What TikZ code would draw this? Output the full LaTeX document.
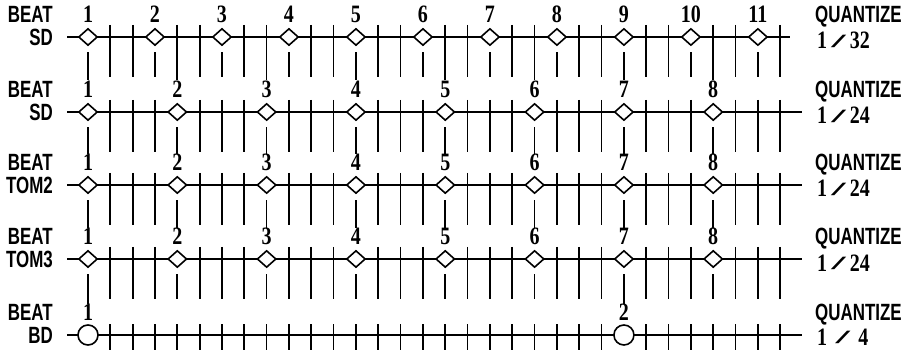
\documentclass[tikz,border=0pt]{standalone}
\usepackage{fontspec}
\setmainfont{Liberation Serif}
\newfontfamily\labfont[FakeStretch=0.72]{Liberation Sans}
\newfontfamily\numfont[FakeStretch=0.8]{Liberation Serif}
\usetikzlibrary{shapes.geometric}
\tikzset{
  rowline/.style={line width=1.4pt},
  tick/.style={line width=1.7pt},
  dia/.style={draw, diamond, minimum width=19pt, minimum height=17pt, inner sep=0pt, fill=white, line width=1.6pt},
  bdcirc/.style={draw, circle, minimum size=20pt, inner sep=0pt, fill=white, line width=1.6pt},
  lab/.style={anchor=east, inner sep=0pt, font=\labfont\bfseries\fontsize{23.5}{23.5}\selectfont},
  qlab/.style={anchor=west, inner sep=0pt, font=\labfont\bfseries\fontsize{23.5}{23.5}\selectfont},
  num/.style={inner sep=0pt, font=\numfont\bfseries\fontsize{25}{25}\selectfont},
  qval/.style={anchor=base west, inner sep=0pt, font=\numfont\bfseries\fontsize{25}{25}\selectfont},
}
\newcommand\qsl{\raisebox{1.5pt}{\scalebox{2.6}[0.75]{/}}}
\newcommand\qv[1]{1\,\qsl\,#1}
% #1 name, #2 y, #3 beat step, #4 last beat grid, #5 line end x, #6 align modulo, #7 aligned end y, #8 instrument, #9 quantize value
\newcommand\drawrow[9]{%
  \node[lab] (#1beat) at (53,#2-23) {BEAT};
  \node[lab] (#1inst) at (53,#2) {#8};
  \node[qlab] (#1q) at (815,#2-20) {QUANTIZE};
  \node[qval] (#1qv) at (817,#2+12) {#9};
  \coordinate (#1s) at (67,#2);
  \coordinate (#1e) at (#5,#2);
  \draw[rowline] (#1s) -- (#1e);
  \foreach \g in {1,...,31}{%
    \pgfmathtruncatemacro\isb{(mod(\g,#3)==0)*(\g<=#4)}%
    \pgfmathtruncatemacro\isa{mod(\g,#6)==0}%
    \pgfmathsetmacro\gx{88+\g*22.33}%
    \ifnum\isb=0
      \ifnum\isa=1 \pgfmathsetmacro\ey{#7}\else \pgfmathsetmacro\ey{#2+40}\fi
      \coordinate (#1tt\g) at (\gx,#2-12);
      \coordinate (#1tb\g) at (\gx,\ey);
      \draw[tick] (#1tt\g) -- (#1tb\g);
    \fi
  }
  \foreach \g in {0,#3,...,#4}{%
    \pgfmathtruncatemacro\isa{mod(\g,#6)==0}%
    \pgfmathtruncatemacro\n{\g/#3+1}%
    \pgfmathsetmacro\gx{88+\g*22.33}%
    \ifnum\isa=1 \pgfmathsetmacro\ey{#7}\else \pgfmathsetmacro\ey{#2+40}\fi
    \node[dia] (#1d\g) at (\gx,#2) {};
    \node[num] (#1n\g) at (\gx,#2-23) {\n};
    \coordinate (#1sb\g) at (\gx,\ey);
    \draw[tick] ([yshift=-6pt]#1d\g.south) -- (#1sb\g);
  }
}
\begin{document}
\begin{tikzpicture}[x=1pt,y=-1pt]
\useasboundingbox (0,0) rectangle (906,350);
\drawrow{ra}{37}{3}{30}{790}{4}{80}{SD}{\qv{32}}
\drawrow{rb}{112}{4}{28}{802}{4}{154}{SD}{\qv{24}}
\drawrow{rc}{185}{4}{28}{802}{4}{228}{TOM2}{\qv{24}}
\drawrow{rd}{259}{4}{28}{802}{24}{304}{TOM3}{\qv{24}}
% BD row
\node[lab] (rebeat) at (53,312) {BEAT};
\node[lab] (reinst) at (53,335) {BD};
\node[qlab] (req) at (815,315) {QUANTIZE};
\node[qval] (reqv) at (817,345) {1\,\,\qsl\,\,4};
\coordinate (res) at (67,335);
\coordinate (ree) at (802,335);
\draw[rowline] (res) -- (ree);
\foreach \g in {1,...,31}{%
  \ifnum\g=24 \else
    \pgfmathsetmacro\gx{88+\g*22.33}%
    \coordinate (rett\g) at (\gx,324);
    \coordinate (retb\g) at (\gx,350);
    \draw[tick] (rett\g) -- (retb\g);
  \fi
}
\node[bdcirc] (red0) at (88,335) {};
\node[num] (ren0) at (88,312) {1};
\node[bdcirc] (red24) at ({88+24*22.33},335) {};
\node[num] (ren24) at ({88+24*22.33},312) {2};
\end{tikzpicture}
\end{document}
